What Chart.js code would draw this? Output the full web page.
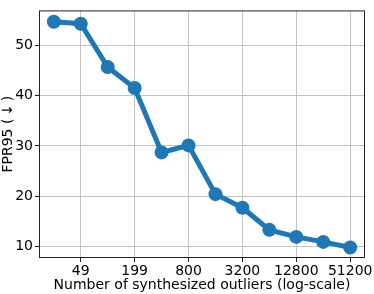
<!DOCTYPE html>
<html lang="en">
<head>
    <meta charset="UTF-8">
    <title>FPR95 vs number of synthesized outliers</title>
    <style>
        * { margin: 0; padding: 0; box-sizing: border-box; }
        body { background: #fff; width: 374px; height: 294px; overflow: hidden; }
        canvas { display: block; }
    </style>
    <script src="https://cdn.jsdelivr.net/npm/chart.js"></script>
</head>
<body>
    <canvas id="fprChart" width="374" height="294"></canvas>

    <script>
        // Data (x positions are log2 steps, labelled every other step)
        const steps = [0, 1, 2, 3, 4, 5, 6, 7, 8, 9, 10, 11];
        const fpr95 = [54.7, 54.3, 45.7, 41.5, 28.7, 30.1, 20.4, 17.7, 13.3, 11.9, 10.9, 9.8];
        const tickSteps = [1, 3, 5, 7, 9, 11];
        const tickLabels = ['49', '199', '800', '3200', '12800', '51200'];
        const yTicks = [10, 20, 30, 40, 50];

        const font = { family: 'DejaVu Sans', size: 14 };

        // frame around the plot, like matplotlib spines
        const frame = {
            id: 'frame',
            afterDraw(chart) {
                const { ctx, chartArea: a } = chart;
                ctx.save();
                ctx.strokeStyle = '#222';
                ctx.lineWidth = 1;
                ctx.strokeRect(a.left + 0.5, a.top + 0.5, a.right - a.left - 1, a.bottom - a.top - 1);
                ctx.restore();
            }
        };

        new Chart(document.getElementById('fprChart'), {
            type: 'line',
            data: {
                datasets: [{
                    data: steps.map((s, i) => ({ x: s, y: fpr95[i] })),
                    borderColor: '#1f77b4',
                    backgroundColor: '#1f77b4',
                    borderWidth: 5,
                    pointRadius: 7,
                    pointBorderWidth: 0,
                    pointHoverRadius: 7,
                    tension: 0,
                    clip: false
                }]
            },
            options: {
                responsive: false,
                animation: false,
                devicePixelRatio: 1,
                layout: { padding: { top: 0, right: 9, left: 0, bottom: 0 } },
                plugins: { legend: { display: false }, tooltip: { enabled: false } },
                scales: {
                    x: {
                        type: 'linear',
                        min: -0.55,
                        max: 11.55,
                        afterBuildTicks: ax => { ax.ticks = tickSteps.map(v => ({ value: v })); },
                        afterFit: ax => { ax.height = 36; },
                        ticks: {
                            font, color: '#000', padding: 1, maxRotation: 0,
                            callback: v => tickLabels[tickSteps.indexOf(v)]
                        },
                        grid: { color: '#c4c4c4', lineWidth: 1, tickLength: 4, tickColor: '#222' },
                        border: { display: false },
                        title: { display: true, text: 'Number of synthesized outliers (log-scale)', font, color: '#000', padding: 0 }
                    },
                    y: {
                        min: 7.7,
                        max: 56.95,
                        afterBuildTicks: ax => { ax.ticks = yTicks.map(v => ({ value: v })); },
                        afterFit: ax => { ax.width = 39; },
                        ticks: { font, color: '#000', padding: 2 },
                        grid: { color: '#c4c4c4', lineWidth: 1, tickLength: 4, tickColor: '#222' },
                        border: { display: false },
                        title: { display: true, text: 'FPR95 (\u2009\u2193\u2009)', font, color: '#000', padding: 0 }
                    }
                }
            },
            plugins: [frame]
        });
    </script>
</body>
</html>
